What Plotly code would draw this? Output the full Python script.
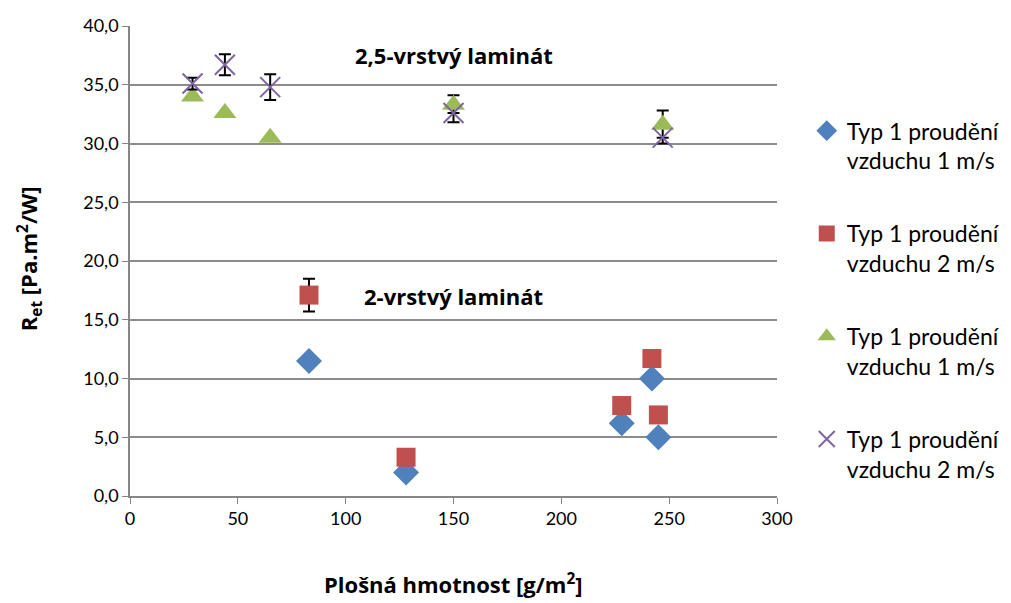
import plotly.graph_objects as go

# Data
blue_x = [83, 128, 228, 242, 245]
blue_y = [11.5, 2.0, 6.2, 10.0, 5.0]

red_x = [83, 128, 228, 242, 245]
red_y = [17.1, 3.3, 7.7, 11.7, 6.9]
red_err = [1.4, 0, 0, 0, 0]

green_x = [29, 44, 65, 150, 247]
green_y = [34.0, 32.6, 30.5, 33.3, 31.6]
green_err_plus = [0, 0, 0, 0.8, 1.2]
green_err_minus = [0, 0, 0, 1.5, 1.6]

purple_x = [29, 44, 65, 150, 247]
purple_y = [35.1, 36.7, 34.8, 32.6, 30.5]
purple_err = [0.5, 0.9, 1.1, 0, 0]

legend_names = ["Typ 1 proudění<br>vzduchu 1 m/s", "Typ 1 proudění<br>vzduchu 2 m/s",
                "Typ 1 proudění<br>vzduchu 1 m/s", "Typ 1 proudění<br>vzduchu 2 m/s"]

x_ticks = [0, 50, 100, 150, 200, 250, 300]
y_ticks = [0, 5, 10, 15, 20, 25, 30, 35, 40]

x_title = "<b>Plošná hmotnost [g/m<sup>2</sup>]</b>"
y_title = "<b>R<sub>et</sub> [Pa.m<sup>2</sup>/W]</b>"

FONT = "Lato"
eb_style = dict(color="black", thickness=2, width=6)

fig = go.Figure()
fig.add_trace(go.Scatter(x=blue_x, y=blue_y, mode="markers", name=legend_names[0], legendgroup="a",
                         marker=dict(symbol="diamond", size=20, color="#4F81BD")))
fig.add_trace(go.Scatter(x=red_x, y=red_y, mode="markers", name=legend_names[1], legendgroup="b",
                         marker=dict(symbol="square", size=19, color="#C0504D"),
                         error_y=dict(type="data", array=red_err, visible=True, **eb_style)))
fig.add_trace(go.Scatter(x=green_x, y=green_y, mode="markers", name=legend_names[2], legendgroup="c",
                         marker=dict(symbol="triangle-up", size=20, color="#9BBB59"),
                         error_y=dict(type="data", symmetric=False, array=green_err_plus,
                                      arrayminus=green_err_minus, visible=True, **eb_style)))
fig.add_trace(go.Scatter(x=purple_x, y=purple_y, mode="markers", name=legend_names[3], legendgroup="d",
                         marker=dict(symbol="x-thin", size=20, color="#8064A2",
                                     line=dict(color="#8064A2", width=2)),
                         error_y=dict(type="data", array=purple_err, visible=True, **eb_style)))

fig.add_annotation(x=150, y=37.5, text="<b>2,5-vrstvý laminát</b>", showarrow=False,
                   font=dict(family="Open Sans", size=22, color="black"))
fig.add_annotation(x=150, y=17.0, text="<b>2-vrstvý laminát</b>", showarrow=False,
                   font=dict(family="Open Sans", size=22, color="black"))

# axis titles
fig.add_annotation(x=0.5, y=-0.186, xref="paper", yref="paper", text=x_title, showarrow=False,
                   xanchor="center", yanchor="middle",
                   font=dict(family="Open Sans", size=22, color="black"))
fig.add_annotation(x=-0.156, y=0.504, xref="paper", yref="paper", text=y_title, showarrow=False,
                   textangle=-90, xanchor="center", yanchor="middle",
                   font=dict(family="Open Sans", size=22, color="black"))

fig.update_layout(
    width=1011, height=603,
    margin=dict(l=130, r=234, t=26, b=107, autoexpand=False),
    paper_bgcolor="white", plot_bgcolor="white",
    separators=", ",
    font=dict(family=FONT, size=18, color="black"),
    showlegend=True,
    legend=dict(x=1.046, y=0.823, xanchor="left", yanchor="top", valign="top",
                tracegroupgap=40, font=dict(family=FONT, size=23), itemwidth=30),
    xaxis=dict(range=[0, 300], tickvals=x_ticks, showgrid=False, zeroline=False,
               showline=True, linecolor="#868686", linewidth=1.5, automargin=False,
               ticks="outside", ticklen=6, tickcolor="#868686"),
    yaxis=dict(range=[0, 40], tickvals=y_ticks, tickformat=".1f", showgrid=True,
               gridcolor="#8C8C8C", gridwidth=1.5, zeroline=False, automargin=False,
               showline=True, linecolor="#868686", linewidth=1.5,
               ticks="outside", ticklen=6, tickcolor="#868686"),
)

fig.write_html("out.html")
